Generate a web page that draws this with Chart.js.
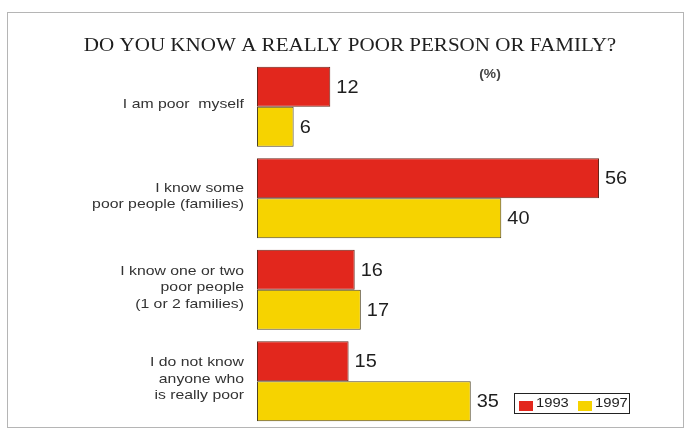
<!DOCTYPE html>
<html>
<head>
<meta charset="utf-8">
<script src="https://cdn.jsdelivr.net/npm/chart.js@4/dist/chart.umd.min.js"></script>
<style>
  html, body { margin: 0; padding: 0; background: #fff; }
  #wrap { width: 686px; height: 439px; }
</style>
</head>
<body>
<div id="wrap"><canvas id="myBarChart" width="686" height="439"></canvas></div>
<script>
// survey answers, percent of respondents
var answers = [
    ["I am poor  myself"],
    ["I know some", "poor people (families)"],
    ["I know one or two", "poor people", "(1 or 2 families)"],
    ["I do not know", "anyone who", "is really poor"]
];
var years = ["1993", "1997"];
var values1993 = [12, 56, 16, 15];
var values1997 = [6, 40, 17, 35];
var barColors = ["#e2271d", "#f6d300"];
var edgeColors = ["#6a2418", "#4e4220"];

var TITLE = "DO YOU KNOW A REALLY POOR PERSON OR FAMILY?";
var SANS = "'Liberation Sans', Arial, sans-serif";

// text in the print is a bit wide, so stretch it sideways
function wideText(ctx, txt, x, y, align, sx) {
    ctx.save();
    ctx.translate(x, y);
    ctx.scale(sx, 1);
    ctx.textAlign = align;
    ctx.fillText(txt, 0, 0);
    ctx.restore();
}

// white page with thin frame, title and unit note
var framePlugin = {
    id: "frame",
    beforeDraw: function(chart) {
        var ctx = chart.ctx;
        ctx.save();
        ctx.fillStyle = "#fff";
        ctx.fillRect(0, 0, chart.width, chart.height);
        ctx.strokeStyle = "#b5b5b5";
        ctx.lineWidth = 1;
        ctx.strokeRect(7.5, 12.5, 676, 415);
        ctx.textBaseline = "middle";
        ctx.fillStyle = "#1e1e1e";
        ctx.font = "19.5px 'Liberation Serif', 'DejaVu Serif', serif";
        wideText(ctx, TITLE, 350, 46, "center", 1.08);
        ctx.font = "bold 12px " + SANS;
        ctx.fillStyle = "#444";
        wideText(ctx, "(%)", 490, 75, "center", 1.15);
        ctx.restore();
    }
};

// category names, value next to each bar, and the small boxed legend
var labelPlugin = {
    id: "barLabels",
    afterDatasetsDraw: function(chart) {
        var ctx = chart.ctx;
        var yScale = chart.scales.y;
        ctx.save();
        ctx.textBaseline = "middle";

        ctx.fillStyle = "#333";
        ctx.font = "13.5px " + SANS;
        chart.data.labels.forEach(function(lines, i) {
            var cy = yScale.getPixelForValue(i);
            var lh = 16.5;
            var y0 = cy - (lines.length - 1) * lh / 2 - 2;
            lines.forEach(function(line, k) {
                wideText(ctx, line, 244, y0 + k * lh, "right", 1.17);
            });
        });

        ctx.fillStyle = "#1e1e1e";
        ctx.font = "19px " + SANS;
        chart.data.datasets.forEach(function(ds, i) {
            chart.getDatasetMeta(i).data.forEach(function(bar, j) {
                wideText(ctx, String(ds.data[j]), bar.x + 6, bar.y + 1, "left", 1.05);
            });
        });

        // legend
        ctx.strokeStyle = "#222";
        ctx.lineWidth = 1;
        ctx.strokeRect(514.5, 393.5, 115, 20);
        ctx.font = "12.5px " + SANS;
        var lx = 519;
        chart.data.datasets.forEach(function(ds) {
            ctx.fillStyle = ds.backgroundColor;
            ctx.fillRect(lx, 401, 14, 10);
            ctx.fillStyle = "#222";
            wideText(ctx, ds.label, lx + 17, 404, "left", 1.18);
            lx += 59;
        });
        ctx.restore();
    }
};

var ctx = document.getElementById("myBarChart").getContext("2d");
var myBarChart = new Chart(ctx, {
    type: "bar",
    data: {
        labels: answers,
        datasets: [{
            label: years[0],
            data: values1993,
            backgroundColor: barColors[0],
            borderColor: edgeColors[0],
            borderWidth: 1,
            borderSkipped: false
        }, {
            label: years[1],
            data: values1997,
            backgroundColor: barColors[1],
            borderColor: edgeColors[1],
            borderWidth: 1,
            borderSkipped: false
        }]
    },
    options: {
        indexAxis: "y",
        responsive: false,
        animation: false,
        layout: { padding: { top: 61, bottom: 12, left: 257, right: 1.5 } },
        datasets: {
            bar: { categoryPercentage: 0.874, barPercentage: 1 }
        },
        scales: {
            x: { display: false, min: 0, max: 70 },
            y: { display: false }
        },
        plugins: {
            legend: { display: false },
            title: { display: false },
            tooltip: { enabled: false }
        }
    },
    plugins: [framePlugin, labelPlugin]
});
</script>
</body>
</html>
